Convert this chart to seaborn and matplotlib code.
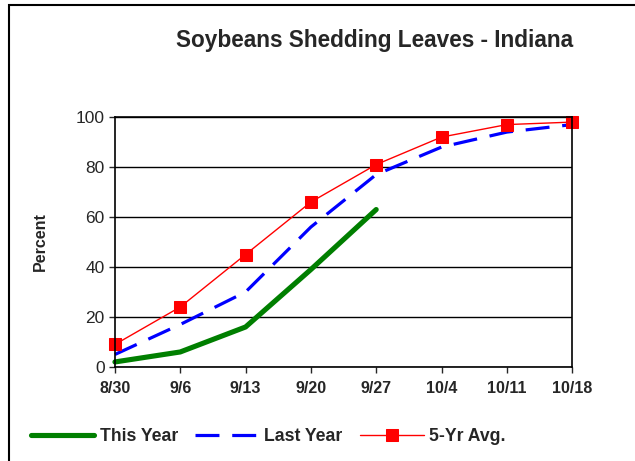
import pandas as pd
import seaborn as sns
import matplotlib.pyplot as plt
import matplotlib.patches as mpatches
import numpy as np

# datos
fechas = ['8/30', '9/6', '9/13', '9/20', '9/27', '10/4', '10/11', '10/18']
este_anio = [2, 6, 16, 39, 63]
anio_pasado = [5, 17, 30, 56, 77, 88, 94, 97]
promedio_5 = [9, 24, 45, 66, 81, 92, 97, 98]

sns.set_style("white")
plt.rcParams['font.family'] = ['Liberation Sans', 'DejaVu Sans']

fig = plt.figure(figsize=(6.35, 4.61), dpi=100)
ax = fig.add_axes([0.181, 0.204, 0.72, 0.542])

x = np.arange(len(fechas))
sns.lineplot(x=x[:len(este_anio)], y=este_anio, ax=ax, color='#007f00', lw=3.7,
             label='This Year')
sns.lineplot(x=x, y=anio_pasado, ax=ax, color='#0000ff', lw=2.3,
             label='Last Year').lines[-1].set_dashes([7.5, 4])
sns.lineplot(x=x, y=promedio_5, ax=ax, color='#ff0000', lw=1.0, marker='s',
             markersize=8, markeredgecolor='#ff0000', label='5-Yr Avg.')
for ln in ax.lines:
    ln.set_clip_on(False)

ax.set_xlim(0, len(fechas) - 1)
ax.set_ylim(0, 100)
ax.set_xticks(x)
ax.set_xticklabels(fechas, fontsize=11.5, fontweight='bold')
ax.set_yticks(range(0, 101, 20))
ax.tick_params(axis='y', labelsize=12.5, length=4, width=1, direction='out', left=True)
ax.tick_params(axis='x', length=4, width=1, direction='out', bottom=True, pad=6)
ax.grid(True, axis='y', color='black', lw=1)
ax.set_axisbelow(True)
for s in ax.spines.values():
    s.set_color('black')
    s.set_linewidth(1.2)
ax.set_xlabel('')
ax.set_ylabel('Percent', fontsize=11.5, fontweight='bold', labelpad=20)

fig.text(0.59, 0.913, 'Soybeans Shedding Leaves - Indiana', ha='center', va='center',
         fontsize=16.3, fontweight='bold')

leg = ax.legend(loc='center', bbox_to_anchor=(0.335, -0.28), ncol=3, frameon=False,
                prop={'weight': 'bold', 'size': 12.7}, handlelength=3.6, handletextpad=0.3,
                columnspacing=1.0)

# marco exterior
fig.patches.append(mpatches.Rectangle((9 / 635, -0.1), 1.2, 1 - 5 / 461 + 0.1,
                                      transform=fig.transFigure, fill=False,
                                      edgecolor='black', lw=1.5))

plt.savefig('out.png', dpi=100)
